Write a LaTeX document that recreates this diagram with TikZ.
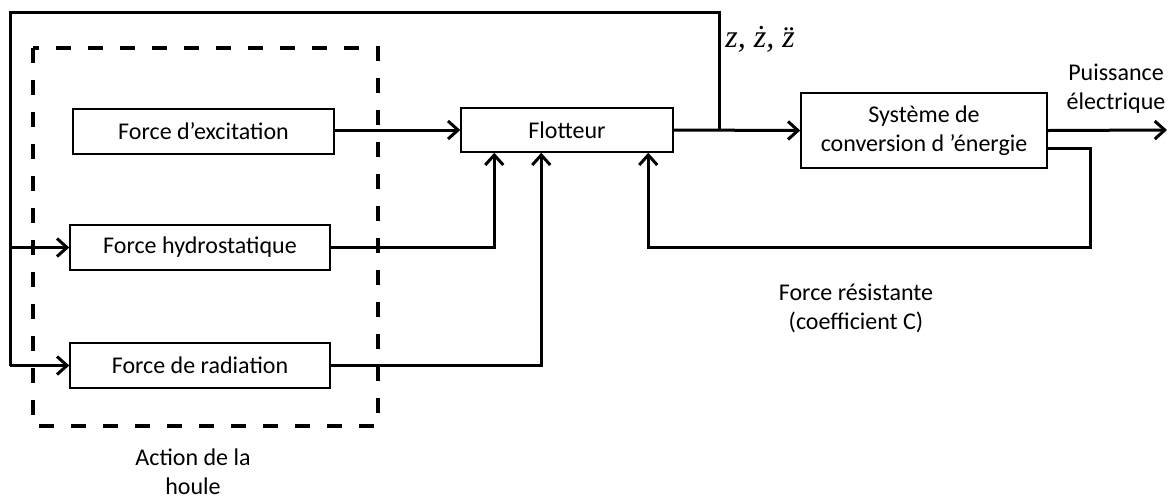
\documentclass[tikz,border=0pt]{standalone}
\usepackage{fontspec}
\setmainfont{Carlito}
\newfontfamily\timesit{Liberation Serif Italic}
\usetikzlibrary{arrows.meta}
\tikzset{
  bloc/.style={draw, line width=.75pt, minimum height=22.5pt, inner sep=0pt, align=center},
  lien/.style={line width=1.5pt},
  fleche/.style={lien, -{Straight Barb[length=5pt, width=9pt]}},
  houle/.style={line width=2pt, dash pattern=on 7.5pt off 8.5pt},
}
\begin{document}
\begin{tikzpicture}[x=.5pt, y=-.5pt, font=\fontsize{12}{14.5}\selectfont]
\useasboundingbox (0,0) rectangle (1169,500);
% blocs
\node[bloc, minimum width=130.5pt] (exc) at (203.5,131.5) {Force d’excitation};
\node[bloc, minimum width=130pt] (hydro) at (200,247.5) {Force hydrostatique};
\node[bloc, minimum width=130pt] (rad) at (200,365.5) {Force de radiation};
\node[bloc, minimum width=106pt, minimum height=22pt] (flot) at (567,130) {Flotteur};
\node[bloc, minimum width=123pt, minimum height=37.5pt] (conv) at (924,130.5) {Système de\\conversion d ’énergie};
% action de la houle
\draw[houle] (33,48) rectangle (378,426);
\node[align=center] (act) at (193,472) {Action de la\\houle};
% points de passage
\coordinate (j) at (719,130);
\coordinate (lft) at (10,12);
\coordinate (out) at (1167,130);
\coordinate (fb) at (1090,247);
% liaisons
\draw[fleche] (exc.east |- flot.west) -- (flot.west);
\draw[fleche] (hydro.east) -| ([xshift=17pt]flot.south west);
\draw[fleche] (rad.east) -| ([xshift=40.5pt]flot.south west);
\draw[fleche] (flot.east) -- (conv.west);
\draw[lien] (j) |- (lft) -- (lft |- rad.west);
\draw[fleche] (lft |- hydro.west) -- (hydro.west);
\draw[fleche] (lft |- rad.west) -- (rad.west);
\draw[fleche] (conv.east) -- (out);
\draw[fleche] ([yshift=-8.75pt]conv.east) -| (fb) -| ([xshift=94pt]flot.south west);
% textes
\node[anchor=base west, inner sep=0pt, font=\fontsize{16}{18}\timesit] (zlab) at (725,47) {z, ż, \"{z}};
\node[align=center] (puis) at (1116,89) {Puissance\\électrique};
\node[align=center] (fres) at (856,308) {Force résistante\\(coefficient C)};
\end{tikzpicture}
\end{document}
